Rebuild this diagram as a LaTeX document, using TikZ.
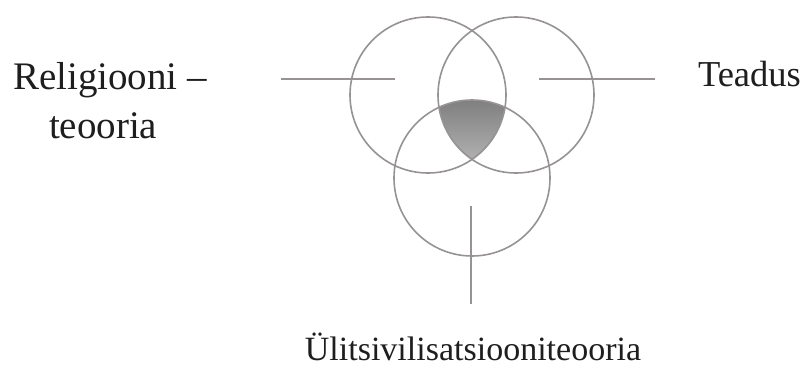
\documentclass[tikz,border=0pt]{standalone}
\usepackage{fontspec}
\setmainfont{Liberation Serif}
\definecolor{ringgray}{RGB}{150,146,150}
\definecolor{shade}{RGB}{163,153,158}
\definecolor{txt}{RGB}{30,30,30}
\tikzset{
  ring/.style={draw=ringgray, line width=1.6pt},
  leader/.style={draw=ringgray, line width=1.4pt},
  lbl/.style={inner sep=0pt, outer sep=0pt, text=txt}
}
\begin{document}
\begin{tikzpicture}[x=1pt,y=-1pt]
\useasboundingbox (0,0) rectangle (809,372);
\fill[white] (0,0) rectangle (809,372);
% circle centres
\coordinate (cL) at (428,95);
\coordinate (cR) at (516,95);
\coordinate (cB) at (472,178);
% shaded common region
\begin{scope}
  \clip (cL) circle[radius=78];
  \clip (cR) circle[radius=78];
  \fill[shade] (cB) circle[radius=78];
\end{scope}
\draw[ring] (cL) circle[radius=78];
\draw[ring] (cR) circle[radius=78];
\draw[ring] (cB) circle[radius=78];
% labels
\node[lbl, anchor=base west] (rel) at (13,89) {\fontsize{39}{45}\selectfont Religiooni –};
\node[lbl, anchor=base west] (teo) at (49,138) {\fontsize{39}{45}\selectfont teooria};
\node[lbl, anchor=base west] (tea) at (698,86) {\fontsize{36.5}{42}\selectfont Teadus};
\node[lbl, anchor=base] (uli) at (473,360) {\fontsize{34}{40}\selectfont Ülitsivilisatsiooniteooria};
% leader lines
\coordinate (l1) at (281,79);
\coordinate (l2) at (395,79);
\coordinate (r1) at (539,79);
\coordinate (r2) at (655,79);
\coordinate (b1) at (471,206);
\coordinate (b2) at (471,304);
\draw[leader] (l1) -- (l2);
\draw[leader] (r1) -- (r2);
\draw[leader] (b1) -- (b2);
\end{tikzpicture}
\end{document}
